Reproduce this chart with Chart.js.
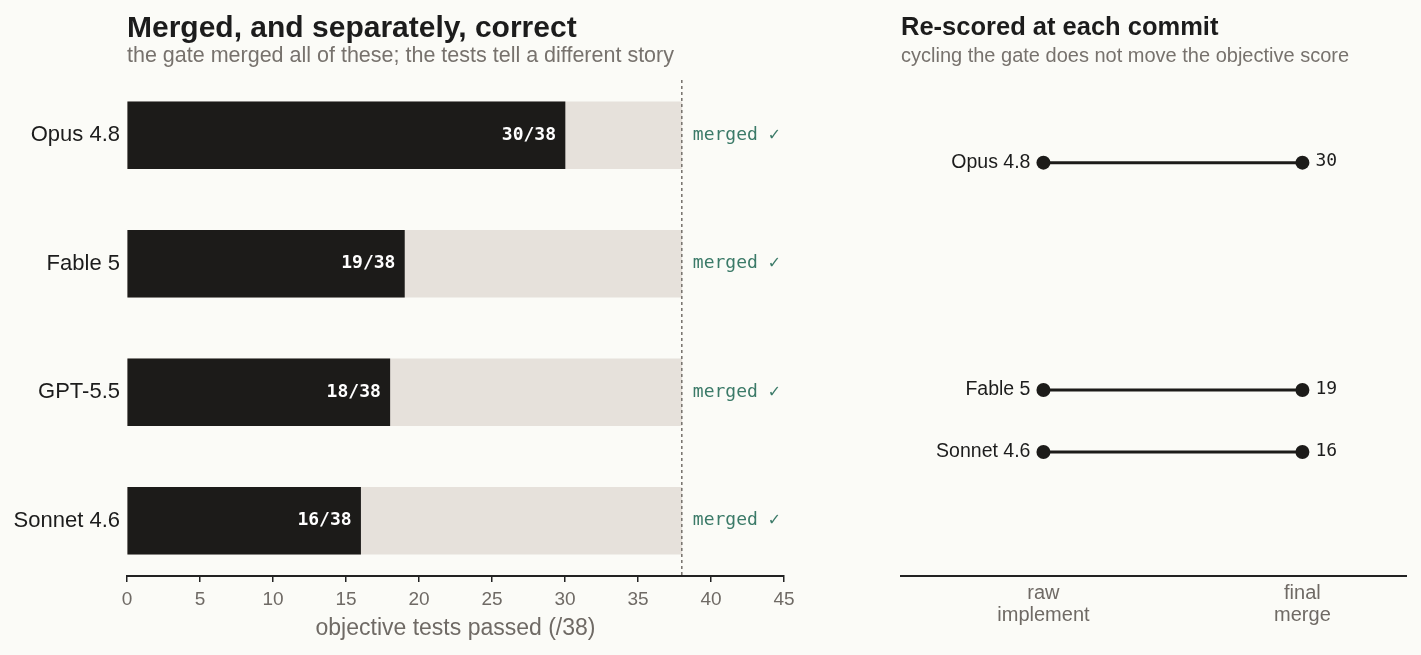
<!DOCTYPE html>
<html>
<head>
<meta charset="utf-8">
<script src="https://cdn.jsdelivr.net/npm/chart.js@4"></script>
<style>
  html, body { margin: 0; padding: 0; background: #fbfbf7; }
  #wrap { position: relative; width: 1421px; height: 655px; overflow: hidden; background: #fbfbf7; }
  .t { position: absolute; white-space: nowrap; margin: 0; }
  #leftTitle { left: 127px; top: 12px; font: bold 30px/30px "Liberation Sans", Arial, sans-serif; color: #1c1c1c; }
  #leftSub { left: 127px; top: 45px; font: 21.5px/21.5px "Liberation Sans", Arial, sans-serif; color: #77726d; }
  #rightTitle { left: 901px; top: 14px; font: bold 25.5px/25.5px "Liberation Sans", Arial, sans-serif; color: #1c1c1c; }
  #rightSub { left: 901px; top: 45px; font: 20px/20px "Liberation Sans", Arial, sans-serif; color: #77726d; }
  #c1 { position: absolute; left: 0; top: 0; }
  #c2 { position: absolute; left: 860px; top: 0; }
</style>
</head>
<body>
<div id="wrap">
  <canvas id="c1" width="840" height="655"></canvas>
  <canvas id="c2" width="561" height="655"></canvas>
  <div class="t" id="leftTitle">Merged, and separately, correct</div>
  <div class="t" id="leftSub">the gate merged all of these; the tests tell a different story</div>
  <div class="t" id="rightTitle">Re-scored at each commit</div>
  <div class="t" id="rightSub">cycling the gate does not move the objective score</div>
</div>
<script>
// dados do gráfico da esquerda
const modelos = ['Opus 4.8', 'Fable 5', 'GPT-5.5', 'Sonnet 4.6'];
const testesPassados = [30, 19, 18, 16];
const totalTestes = 38;
const xTicks = [0, 5, 10, 15, 20, 25, 30, 35, 40, 45];

// dados do gráfico da direita
const modelosDireita = ['Opus 4.8', 'Fable 5', 'Sonnet 4.6'];
const notaRaw = [30, 19, 16];
const notaFinal = [30, 19, 16];
const etapas = [['raw', 'implement'], ['final', 'merge']];

const escuro = '#1c1b19';
const claro = '#e6e1db';
const cinza = '#6f6a65';
const verde = '#3b7a68';
const fonte = '"Liberation Sans", Arial, sans-serif';
const fonteMono = '"DejaVu Sans Mono", monospace';

// --- rótulos das barras e linha tracejada ---
const rotulosBarras = {
    id: 'rotulosBarras',
    afterDatasetsDraw(chart) {
        const ctx = chart.ctx;
        const x = chart.scales.x;
        const area = chart.chartArea;
        const xl = x.getPixelForValue(totalTestes);

        ctx.save();
        ctx.strokeStyle = '#75706b';
        ctx.lineWidth = 1.5;
        ctx.setLineDash([3, 3]);
        ctx.beginPath();
        ctx.moveTo(xl, area.top);
        ctx.lineTo(xl, area.bottom);
        ctx.stroke();
        ctx.setLineDash([]);

        const meta = chart.getDatasetMeta(0);
        ctx.textBaseline = 'middle';
        meta.data.forEach((bar, i) => {
            ctx.font = 'bold 18px ' + fonteMono;
            ctx.fillStyle = '#ffffff';
            ctx.textAlign = 'right';
            ctx.fillText(`${testesPassados[i]}/${totalTestes}`, bar.x - 9, bar.y);

            ctx.font = '18px ' + fonteMono;
            ctx.fillStyle = verde;
            ctx.textAlign = 'left';
            ctx.fillText('merged \u2713', xl + 11, bar.y);
        });
        ctx.restore();
    }
};

new Chart(document.getElementById('c1'), {
    type: 'bar',
    data: {
        datasets: [{
            label: 'passados',
            data: testesPassados.map((v, i) => ({ x: v, y: i })),
            backgroundColor: escuro,
            grouped: false,
            barThickness: 67
        }, {
            label: 'total',
            data: testesPassados.map((v, i) => ({ x: totalTestes, y: i })),
            backgroundColor: claro,
            grouped: false,
            barThickness: 67
        }]
    },
    options: {
        indexAxis: 'y',
        responsive: false,
        animation: false,
        layout: { padding: { left: 0, right: 56, top: 80, bottom: 0 } },
        scales: {
            x: {
                type: 'linear',
                min: 0,
                max: 45,
                afterBuildTicks: (s) => { s.ticks = xTicks.map(v => ({ value: v })); },
                afterFit: (s) => { s.height = 79; },
                border: { color: '#222', width: 2 },
                grid: { drawOnChartArea: false, drawTicks: true, tickLength: 6, color: '#222', lineWidth: 1.5 },
                ticks: { color: cinza, font: { family: fonte, size: 19 }, padding: 6, maxRotation: 0 },
                title: { display: true, text: 'objective tests passed (/38)', color: cinza, font: { family: fonte, size: 23 }, padding: { top: 0, bottom: 13 } }
            },
            y: {
                type: 'linear',
                reverse: true,
                offset: false,
                min: -0.43,
                max: 3.43,
                afterBuildTicks: (s) => { s.ticks = modelos.map((m, i) => ({ value: i })); },
                afterFit: (s) => { s.width = 127; },
                ticks: { callback: (v) => modelos[v], color: '#1c1c1c', font: { family: fonte, size: 22 }, padding: 7 },
                border: { display: false },
                grid: { display: false, drawTicks: false, offset: false }
            }
        },
        plugins: { legend: { display: false }, tooltip: { enabled: false } }
    },
    plugins: [rotulosBarras]
});

// --- nomes e valores no gráfico da direita ---
const rotulosPontos = {
    id: 'rotulosPontos',
    afterDatasetsDraw(chart) {
        const ctx = chart.ctx;
        ctx.save();
        ctx.textBaseline = 'middle';
        chart.data.datasets.forEach((ds, i) => {
            const pts = chart.getDatasetMeta(i).data;
            ctx.font = '19.5px ' + fonte;
            ctx.fillStyle = '#1c1c1c';
            ctx.textAlign = 'right';
            ctx.fillText(modelosDireita[i], pts[0].x - 13, pts[0].y);
            ctx.font = '18px ' + fonteMono;
            ctx.textAlign = 'left';
            ctx.fillText(String(notaFinal[i]), pts[1].x + 13, pts[1].y - 1);
        });
        ctx.restore();
    }
};

new Chart(document.getElementById('c2'), {
    type: 'line',
    data: {
        datasets: modelosDireita.map((m, i) => ({
            label: m,
            data: [{ x: 0, y: notaRaw[i] }, { x: 1, y: notaFinal[i] }],
            borderColor: escuro,
            backgroundColor: escuro,
            borderWidth: 3,
            pointRadius: 7,
            pointBorderWidth: 0
        }))
    },
    options: {
        responsive: false,
        animation: false,
        layout: { padding: { left: 41, right: 15, top: 80, bottom: 0 } },
        scales: {
            x: {
                type: 'linear',
                min: -0.55,
                max: 1.4,
                afterBuildTicks: (s) => { s.ticks = etapas.map((e, i) => ({ value: i })); },
                afterFit: (s) => { s.height = 79; },
                border: { color: '#222', width: 2 },
                grid: { display: false, drawTicks: false },
                ticks: { callback: (v) => etapas[v], color: cinza, font: { family: fonte, size: 20, lineHeight: 1.1 }, padding: 6, maxRotation: 0 }
            },
            y: { type: 'linear', min: 10, max: 34, display: false }
        },
        plugins: { legend: { display: false }, tooltip: { enabled: false } }
    },
    plugins: [rotulosPontos]
});
</script>
</body>
</html>
